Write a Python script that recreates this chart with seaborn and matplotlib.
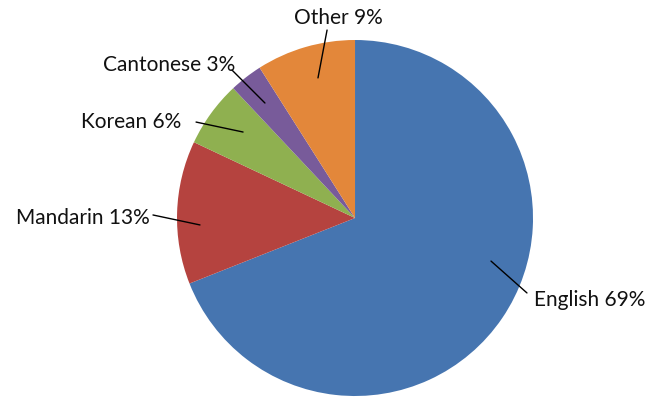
import matplotlib
matplotlib.use("Agg")
import matplotlib.pyplot as plt
import seaborn as sns

sns.set_theme(style="white")
plt.rcParams['font.family'] = ['Lato', 'DejaVu Sans']

categories = ["English", "Mandarin", "Korean", "Cantonese", "Other"]
values = [69, 13, 6, 3, 9]
colors = ["#4675B0", "#B5433F", "#8FB050", "#785B9A", "#E3873A"]

# label placement (style): text centre, leader outer end, leader inner end (data coords)
label_pos = {
    "English":   ((1.320, -0.461), (0.966, -0.421), (0.764, -0.242)),
    "Mandarin":  ((-1.528, 0.000), (-1.135, 0.017), (-0.871, -0.039)),
    "Korean":    ((-1.258, 0.539), (-0.893, 0.539), (-0.629, 0.483)),
    "Cantonese": ((-1.045, 0.860), (-0.691, 0.831), (-0.506, 0.646)),
    "Other":     ((-0.096, 1.124), (-0.157, 1.056), (-0.208, 0.787)),
}

fig = plt.figure(figsize=(6.6, 3.98), dpi=100)
ax = fig.add_axes([0.2682, 0.005, 0.5394, 0.8945])
ax.pie(values, colors=colors, startangle=90, counterclock=False, radius=1,
       wedgeprops=dict(linewidth=0))
ax.set_xlim(-1, 1)
ax.set_ylim(-1, 1)
ax.set_aspect('auto')
ax.axis('off')

for cat, v in zip(categories, values):
    (tx, ty), (ox, oy), (ix, iy) = label_pos[cat]
    ax.plot([ox, ix], [oy, iy], color="black", lw=1, clip_on=False)
    ax.text(tx, ty, f"{cat} {v}%", ha="center", va="center", fontsize=15,
            color="#111111", clip_on=False)

fig.savefig("out.png", dpi=100)
